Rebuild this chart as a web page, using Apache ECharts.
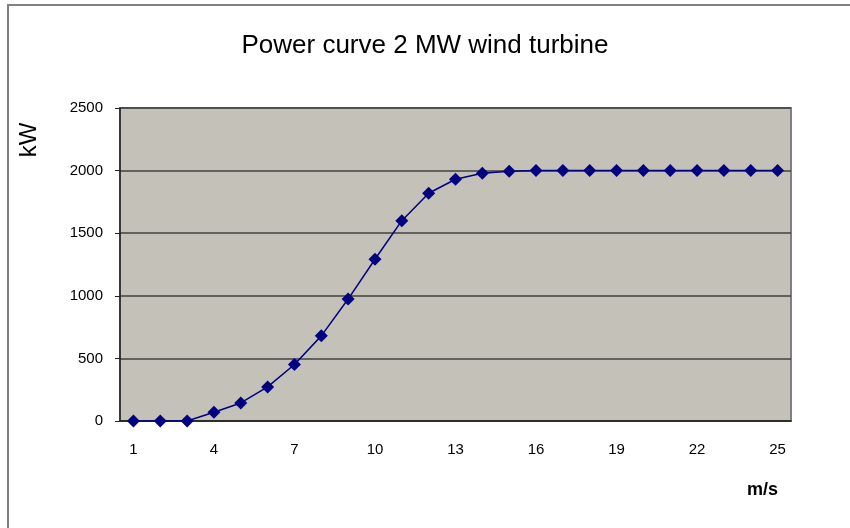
<!DOCTYPE html>
<html>
<head>
<meta charset="utf-8">
<script src="https://cdn.jsdelivr.net/npm/echarts@6/dist/echarts.min.js"></script>
<style>
html,body{margin:0;padding:0;background:#fff;}
#c{width:850px;height:528px;}
</style>
</head>
<body>
<div id="c"></div>
<script>
const windSpeeds = ['1','2','3','4','5','6','7','8','9','10','11','12','13','14','15','16','17','18','19','20','21','22','23','24','25'];
const powerKW = [0,0,0,70,144,272,451,680,974,1292,1600,1819,1931,1979,1995,2000,2000,2000,2000,2000,2000,2000,2000,2000,2000];
const titleText = 'Power curve 2 MW wind turbine';
const yName = 'kW';
const xName = 'm/s';

const chart = echarts.init(document.getElementById('c'), null, {renderer:'canvas'});
chart.setOption({
  animation:false,
  backgroundColor:'#fff',
  title:{
    text:titleText, left:'center', top:28,
    textStyle:{fontFamily:'Liberation Sans', fontSize:26, fontWeight:'normal', color:'#000'}
  },
  graphic:[
    {type:'rect', shape:{x:8, y:5, width:900, height:600}, style:{fill:null, stroke:'#808080', lineWidth:2}, z:-10},
    {type:'text', x:29, y:140, rotation:Math.PI/2,
     style:{text:yName, font:'24px "Liberation Sans"', fill:'#000', align:'center', verticalAlign:'middle'}},
    {type:'text', left:747, top:481, style:{text:xName, font:'bold 18px "Liberation Sans"', fill:'#000'}}
  ],
  grid:{left:120, right:59, top:108, bottom:107, show:true, backgroundColor:'#C4C1B9', borderColor:'#808080', borderWidth:2},
  xAxis:{
    type:'category', data:windSpeeds, boundaryGap:true,
    axisLine:{lineStyle:{color:'#222', width:1.5}},
    axisTick:{interval:0, length:5, lineStyle:{color:'#222'}},
    axisLabel:{interval:2, margin:21, fontFamily:'Liberation Sans', fontSize:15, color:'#000'},
    splitLine:{show:false}
  },
  yAxis:{
    type:'value', min:0, max:2500, interval:500,
    axisLine:{show:true, lineStyle:{color:'#222', width:1.5}},
    axisTick:{show:true, length:5, lineStyle:{color:'#222'}},
    axisLabel:{margin:17, fontFamily:'Liberation Sans', fontSize:15, color:'#000', formatter:function(v){return String(v);}},
    splitLine:{lineStyle:{color:'#404040', width:1.5}}
  },
  series:[{
    type:'line', data:powerKW, smooth:false,
    symbol:'diamond', symbolSize:13,
    lineStyle:{color:'#000080', width:1.5},
    itemStyle:{color:'#000080'}
  }]
});
</script>
</body>
</html>
